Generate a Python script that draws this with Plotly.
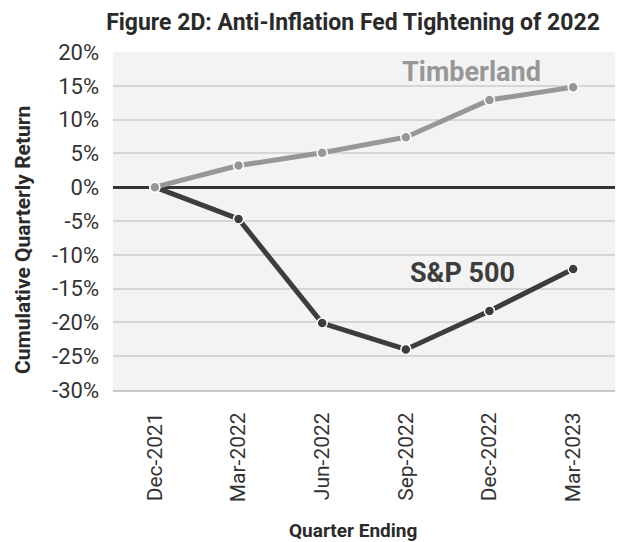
import plotly.graph_objects as go

quarters = ["Dec-2021", "Mar-2022", "Jun-2022", "Sep-2022", "Dec-2022", "Mar-2023"]
timberland = [0.0, 3.2, 5.1, 7.4, 12.9, 14.8]
sp500 = [0.0, -4.7, -20.1, -24.0, -18.3, -12.1]
y_ticks = [20, 15, 10, 5, 0, -5, -10, -15, -20, -25, -30]
y_tick_text = [f"{v}%" for v in y_ticks]

FONT = "Roboto"
W, H = 624, 542
L, R, T, B = 113, 9, 52, 152
PW, PH = W - L - R, H - T - B


def px_to_paper(px, py):
    return (px - L) / PW, (H - B - py) / PH


fig = go.Figure()
fig.add_trace(go.Scatter(
    x=quarters, y=sp500, mode="lines+markers", name="S&P 500",
    line=dict(color="#3d3d3d", width=5),
    marker=dict(size=10, color="#3d3d3d", line=dict(color="#ffffff", width=1.5)),
))
fig.add_trace(go.Scatter(
    x=quarters, y=timberland, mode="lines+markers", name="Timberland",
    line=dict(color="#979797", width=5),
    marker=dict(size=10, color="#979797", line=dict(color="#ffffff", width=1.5)),
))

fig.add_annotation(x=3.78, y=17.0, xref="x", yref="y", text="<b>Timberland</b>",
                   showarrow=False, font=dict(family=FONT, size=27, color="#979797"))
fig.add_annotation(x=3.68, y=-12.7, xref="x", yref="y", text="<b>S&P 500</b>",
                   showarrow=False, font=dict(family=FONT, size=27, color="#3d3d3d"))

# axis titles
yx, yy = px_to_paper(23, 240)
fig.add_annotation(x=yx, y=yy, xref="paper", yref="paper", textangle=-90,
                   text="<b>Cumulative Quarterly Return</b>", showarrow=False,
                   xanchor="center", yanchor="middle",
                   font=dict(family=FONT, size=21, color="#2a2a2a"))
xx, xy = px_to_paper(353, 530)
fig.add_annotation(x=xx, y=xy, xref="paper", yref="paper",
                   text="<b>Quarter Ending</b>", showarrow=False,
                   xanchor="center", yanchor="middle",
                   font=dict(family=FONT, size=19, color="#2a2a2a"))

fig.update_layout(
    width=W, height=H,
    margin=dict(l=L, r=R, t=T, b=B),
    paper_bgcolor="#ffffff", plot_bgcolor="#f3f3f3",
    showlegend=False,
    font=dict(family=FONT, color="#333333"),
    title=dict(text="<b>Figure 2D: Anti-Inflation Fed Tightening of 2022</b>",
               x=353/W, xanchor="center", xref="container",
               y=1 - 22/H, yanchor="middle", yref="container",
               font=dict(family=FONT, size=23, color="#2a2a2a")),
)
fig.update_xaxes(
    type="category", range=[-0.5, 5.5], tickangle=-90,
    tickfont=dict(family=FONT, size=21, color="#333333"),
    ticklabelstandoff=12,
    showgrid=False, showline=True, linecolor="#c8c8c8", linewidth=2,
)
fig.update_yaxes(
    range=[-30, 20], tickvals=y_ticks, ticktext=y_tick_text,
    tickfont=dict(family=FONT, size=22, color="#333333"),
    ticklabelstandoff=13,
    showgrid=True, gridcolor="#d6d6d6", gridwidth=1.5,
    zeroline=True, zerolinecolor="#333333", zerolinewidth=2.5,
    showline=False,
)

fig.write_html("out.html")
